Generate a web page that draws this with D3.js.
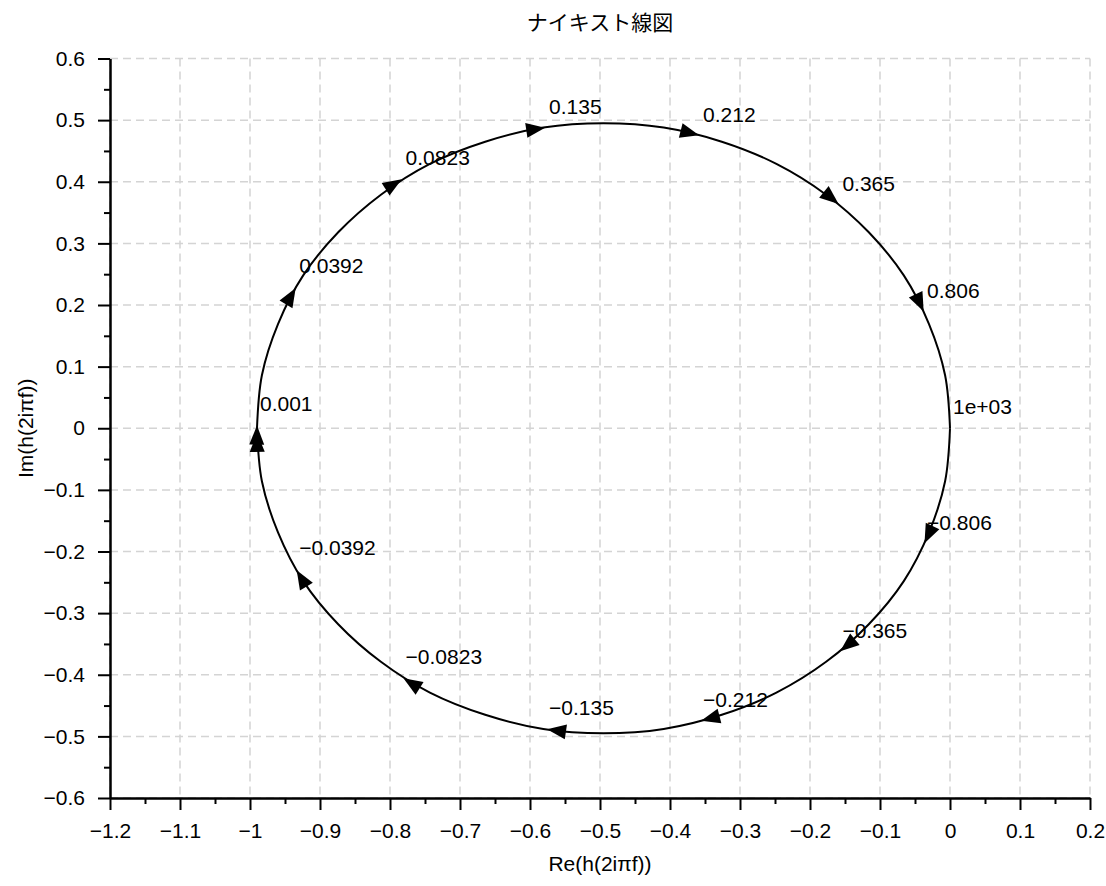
<!DOCTYPE html>
<html>
<head>
<meta charset="utf-8">
<script src="https://cdn.jsdelivr.net/npm/d3@7"></script>
<style>
  body { margin: 0; background: #fff; }
  text { font-family: "Liberation Sans", Arial, sans-serif; }
</style>
</head>
<body>
<script>
// courbe (demi-plan superieur, f > 0)
const curveRe = [-0.990, -0.983, -0.960, -0.924, -0.874, -0.813, -0.743, -0.664, -0.581, -0.495,
                 -0.409, -0.326, -0.248, -0.177, -0.116, -0.066, -0.030, -0.007, 0.000];
const curveIm = [0.000, 0.086, 0.169, 0.248, 0.318, 0.379, 0.429, 0.465, 0.488, 0.495,
                 0.488, 0.465, 0.429, 0.379, 0.318, 0.248, 0.169, 0.086, 0.000];

// frequences reperees sur la courbe
const markLabels = ["0.001", "0.0392", "0.0823", "0.135", "0.212", "0.365", "0.806", "1e+03"];
const markRe = [-0.990, -0.934, -0.782, -0.577, -0.357, -0.158, -0.037, 0.000];
const markIm = [0.006, 0.229, 0.405, 0.488, 0.475, 0.363, 0.188, 0.0002];
const showLabelNeg = [false, true, true, true, true, true, true, false];
const showArrow = [true, true, true, true, true, true, true, false];

const xTicks = [-1.2, -1.1, -1, -0.9, -0.8, -0.7, -0.6, -0.5, -0.4, -0.3, -0.2, -0.1, 0, 0.1, 0.2];
const yTicks = [-0.6, -0.5, -0.4, -0.3, -0.2, -0.1, 0, 0.1, 0.2, 0.3, 0.4, 0.5, 0.6];

const title = "ナイキスト線図";
const xLabel = "Re(h(2iπf))";
const yLabel = "Im(h(2iπf))";

const width = 1106;
const height = 886;
const mLeft = 110, mRight = 1090, mTop = 58.5, mBottom = 798;
const fontSize = 21;

const svg = d3.create("svg")
  .attr("width", width)
  .attr("height", height)
  .attr("viewBox", `0 0 ${width} ${height}`);

const x = d3.scaleLinear().domain([-1.2, 0.2]).range([mLeft, mRight]);
const y = d3.scaleLinear().domain([-0.6, 0.6]).range([mBottom, mTop]);

const fmt = d => d3.format("~g")(+d.toFixed(2));

// minor ticks a mi-chemin
const xMinor = d3.pairs(xTicks).map(([a, b]) => (a + b) / 2);
const yMinor = d3.pairs(yTicks).map(([a, b]) => (a + b) / 2);

// grille
const grid = svg.append("g")
  .attr("stroke", "#d4d4d4")
  .attr("stroke-width", 1.5)
  .attr("stroke-dasharray", "8,5");
grid.selectAll(".gx")
  .data(xTicks)
  .join("line")
  .attr("x1", d => x(d)).attr("x2", d => x(d))
  .attr("y1", mTop).attr("y2", mBottom);
grid.selectAll(".gy")
  .data(yTicks)
  .join("line")
  .attr("x1", mLeft).attr("x2", mRight)
  .attr("y1", d => y(d)).attr("y2", d => y(d));

// axes
const styleAxis = g => {
  g.selectAll("path.domain").attr("stroke", "#000").attr("stroke-width", 2);
  g.selectAll(".tick line").attr("stroke", "#000").attr("stroke-width", 2);
  g.selectAll("text").attr("font-size", fontSize).attr("fill", "#000")
    .attr("font-family", '"Liberation Sans", Arial, sans-serif');
};

svg.append("g")
  .attr("transform", `translate(0,${mBottom})`)
  .call(d3.axisBottom(x).tickValues(xMinor).tickSize(6).tickSizeOuter(0).tickFormat(""))
  .call(styleAxis);
const gx = svg.append("g")
  .attr("transform", `translate(0,${mBottom})`)
  .call(d3.axisBottom(x).tickValues(xTicks).tickSize(12).tickSizeOuter(0).tickFormat(fmt))
  .call(styleAxis);
gx.selectAll("text").attr("y", 25).attr("dy", "0.71em");

svg.append("g")
  .attr("transform", `translate(${mLeft},0)`)
  .call(d3.axisLeft(y).tickValues(yMinor).tickSize(6).tickSizeOuter(0).tickFormat(""))
  .call(styleAxis);
const gy = svg.append("g")
  .attr("transform", `translate(${mLeft},0)`)
  .call(d3.axisLeft(y).tickValues(yTicks).tickSize(12).tickSizeOuter(0).tickFormat(fmt))
  .call(styleAxis);
gy.selectAll("text").attr("x", -25);

// titres
svg.append("text")
  .attr("x", (mLeft + mRight) / 2).attr("y", 30)
  .attr("text-anchor", "middle")
  .attr("font-size", 21)
  .style("font-family", '"Noto Sans CJK JP", sans-serif')
  .text(title);
svg.append("text")
  .attr("x", (mLeft + mRight) / 2).attr("y", 871)
  .attr("text-anchor", "middle")
  .attr("font-size", fontSize)
  .text(xLabel);
svg.append("text")
  .attr("transform", `translate(33,${(mTop + mBottom) / 2}) rotate(-90)`)
  .attr("text-anchor", "middle")
  .attr("font-size", fontSize)
  .text(yLabel);

// points : f > 0 puis f < 0 (conjugues)
const marks = [];
markLabels.forEach((lab, i) => {
  marks.push({re: markRe[i], im: markIm[i], label: lab, arrow: showArrow[i]});
});
markLabels.forEach((lab, i) => {
  marks.push({re: markRe[i], im: -markIm[i], label: showLabelNeg[i] ? "\u2212" + lab : null, arrow: showArrow[i]});
});

svg.append("g")
  .selectAll("text")
  .data(marks.filter(d => d.label))
  .join("text")
  .attr("x", d => x(d.re) + 3)
  .attr("y", d => y(d.im) - 14)
  .attr("font-size", fontSize)
  .text(d => d.label);

// courbe
const upper = curveRe.map((r, i) => [r, curveIm[i]]);
const lower = curveRe.map((r, i) => [r, -curveIm[i]]);
const line = d3.line().x(d => x(d[0])).y(d => y(d[1])).curve(d3.curveCatmullRom);
svg.append("g")
  .selectAll("path")
  .data([upper, lower])
  .join("path")
  .attr("d", line)
  .attr("fill", "none")
  .attr("stroke", "#000")
  .attr("stroke-width", 2);

// fleches, sens horaire
const center = (d3.min(curveRe) + d3.max(curveRe)) / 2;
const sx = x(1) - x(0), sy = y(1) - y(0);
svg.append("g")
  .selectAll("path")
  .data(marks.filter(d => d.arrow))
  .join("path")
  .attr("d", "M-1,0 L-20,-7.5 L-20,7.5 Z")
  .attr("fill", "#000")
  .attr("transform", d => {
    const tx = d.im * sx, ty = -(d.re - center) * sy;
    const a = Math.atan2(ty, tx) * 180 / Math.PI;
    return `translate(${x(d.re)},${y(d.im)}) rotate(${a})`;
  });

document.body.append(svg.node());
</script>
</body>
</html>
